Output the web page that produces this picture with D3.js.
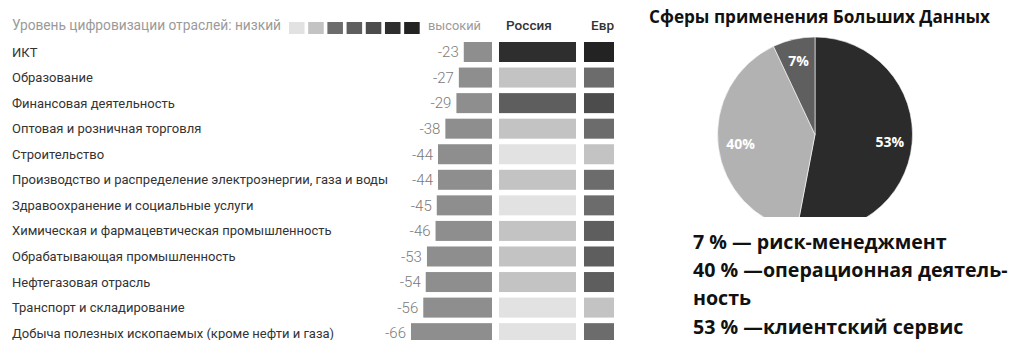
<!DOCTYPE html>
<html><head><meta charset="utf-8">
<script src="https://cdn.jsdelivr.net/npm/d3@7"></script>
<style>
html,body{margin:0;padding:0;background:#fff;}
svg{display:block;}
</style></head>
<body>
<svg id="c" width="1017" height="340"></svg>
<script>
// ---------- data ----------
const sectors = [
  "ИКТ",
  "Образование",
  "Финансовая деятельность",
  "Оптовая и розничная торговля",
  "Строительство",
  "Производство и распределение электроэнергии, газа и воды",
  "Здравоохранение и социальные услуги",
  "Химическая и фармацевтическая промышленность",
  "Обрабатывающая промышленность",
  "Нефтегазовая отрасль",
  "Транспорт и складирование",
  "Добыча полезных ископаемых (кроме нефти и газа)"
];
const changes = [-23, -27, -29, -38, -44, -44, -45, -46, -53, -54, -56, -66];
const regions = ["Россия", "Европа"];
const russiaLevel = [6, 2, 4, 2, 1, 2, 1, 2, 2, 2, 1, 1];
const europeLevel = [7, 3, 5, 3, 2, 3, 3, 4, 4, 4, 2, 3];
const levels = [1, 2, 3, 4, 5, 6, 7];
const levelColors = ["#e2e2e2", "#c3c3c3", "#6c6c6c", "#5e5e5e", "#4c4c4c", "#2e2e2e", "#232323"];
const legendTitle = "Уровень цифровизации отраслей: низкий";
const legendHigh = "высокий";

const pieTitle = "Сферы применения Больших Данных";
const pieCategories = ["клиентский сервис", "операционная деятельность", "риск-менеджмент"];
const pieValues = [53, 40, 7];
const pieColors = ["#2b2b2b", "#b2b2b2", "#5f5f5f"];
const pieLegendLines = ["7 % — риск-менеджмент", "40 % —операционная деятель-", "ность", "53 % —клиентский сервис"];

// ---------- helpers ----------
function fitSize(sel, target) {
  // scale the font size of a single text so its width matches target
  const n = sel.node();
  const fs = parseFloat(sel.attr("font-size"));
  const w = n.getComputedTextLength();
  if (w > 0) sel.attr("font-size", (fs * target / w).toFixed(2));
  return sel;
}

// ---------- drawing ----------
const svg = d3.select("#c");
const defs = svg.append("defs");
defs.append("clipPath").attr("id", "leftClip").append("rect")
  .attr("x", 0).attr("y", 0).attr("width", 614).attr("height", 340);
defs.append("clipPath").attr("id", "pieClip").append("rect")
  .attr("x", 640).attr("y", 0).attr("width", 377).attr("height", 217);

const left = svg.append("g").attr("clip-path", "url(#leftClip)");
const FONT = "Roboto, 'Liberation Sans', sans-serif";

const y = d3.scaleBand().domain(sectors)
  .range([42, 42 + 11 * 25.56 + 20]).paddingInner(0.2175).paddingOuter(0);
const x = d3.scaleLinear().domain([0, -66]).range([492, 411]);
const col = d3.scaleBand().domain(regions).range([499, 661]).paddingInner(0.094);
const lev = d3.scaleBand().domain(levels).range([289, 289 + 6 * 19.2 + 15.5]).paddingInner(0.19);
const levColor = d3.scaleOrdinal().domain(levels).range(levelColors);

// header
const ht = left.append("text").attr("x", 12).attr("y", 29.5)
  .attr("font-family", FONT).attr("font-size", 13)
  .attr("fill", "#9a9a9a").text(legendTitle);
fitSize(ht, 269);
left.selectAll("rect.lev").data(levels).join("rect").attr("class", "lev")
  .attr("x", d => lev(d)).attr("y", 22).attr("width", lev.bandwidth()).attr("height", 12)
  .attr("fill", d => levColor(d));
const hh = left.append("text").attr("x", 428).attr("y", 29.5)
  .attr("font-family", FONT).attr("font-size", 13)
  .attr("fill", "#9a9a9a").text(legendHigh);
fitSize(hh, 53);
left.selectAll("text.reg").data(regions).join("text").attr("class", "reg")
  .attr("x", d => col(d) + 7).attr("y", 29.5)
  .attr("font-family", FONT).attr("font-size", 13.6).attr("font-weight", 500)
  .attr("fill", "#333").text(d => d);

// row labels
const labs = left.selectAll("text.lab").data(sectors).join("text").attr("class", "lab")
  .attr("x", 12).attr("y", d => y(d) + y.bandwidth() / 2 + 4.5)
  .attr("font-family", FONT).attr("font-size", 13)
  .attr("fill", "#333").text(d => d);
// size labels so the longest matches the reference width
const longest = labs.filter((d, i) => i === 5);
const lw = longest.node().getComputedTextLength();
labs.attr("font-size", (13 * 376 / lw).toFixed(2));

// bars
left.selectAll("rect.bar").data(sectors).join("rect").attr("class", "bar")
  .attr("x", (d, i) => x(changes[i])).attr("y", d => y(d))
  .attr("width", (d, i) => x(0) - x(changes[i])).attr("height", y.bandwidth())
  .attr("fill", "#8e8e8e");
left.selectAll("text.val").data(sectors).join("text").attr("class", "val")
  .attr("x", (d, i) => x(changes[i]) - 5).attr("y", d => y(d) + y.bandwidth() / 2 + 5.3)
  .attr("text-anchor", "end")
  .attr("font-family", FONT).attr("font-weight", 300)
  .attr("font-size", 15).attr("fill", "#7a7a7a")
  .text((d, i) => changes[i]);

// level cells
const cellData = [];
sectors.forEach((s, i) => {
  cellData.push({s, r: regions[0], l: russiaLevel[i]});
  cellData.push({s, r: regions[1], l: europeLevel[i]});
});
left.selectAll("rect.cell").data(cellData).join("rect").attr("class", "cell")
  .attr("x", d => col(d.r)).attr("y", d => y(d.s))
  .attr("width", col.bandwidth()).attr("height", y.bandwidth())
  .attr("fill", d => levColor(d.l));

// ---------- pie ----------
const PFONT = "'Open Sans', 'Noto Sans', sans-serif";
const cx = 815, cy = 134.5, R = 97.5;
const pt = svg.append("text").attr("x", 819.5).attr("y", 23).attr("text-anchor", "middle")
  .attr("font-family", PFONT).attr("font-weight", 700)
  .attr("font-size", 16).attr("fill", "#111").text(pieTitle);
fitSize(pt, 341);

const pie = d3.pie().sort(null).value(d => d)(pieValues);
const arc = d3.arc().innerRadius(0).outerRadius(R);
const labelArc = d3.arc().innerRadius(R * 0.77).outerRadius(R * 0.77);
const pg = svg.append("g").attr("clip-path", "url(#pieClip)")
  .append("g").attr("transform", `translate(${cx},${cy})`);
pg.selectAll("path").data(pie).join("path")
  .attr("d", arc).attr("fill", (d, i) => pieColors[i])
  .attr("stroke", "#fff").attr("stroke-width", 0.6);
pg.selectAll("text").data(pie).join("text")
  .attr("transform", d => `translate(${labelArc.centroid(d)})`)
  .attr("text-anchor", "middle").attr("dy", "0.36em")
  .attr("font-family", PFONT).attr("font-weight", 700)
  .attr("font-size", 14).attr("fill", "#fff")
  .text(d => d.data + "%");

// legend text lines
const pl = svg.selectAll("text.pl").data(pieLegendLines).join("text").attr("class", "pl")
  .attr("x", 693).attr("y", (d, i) => 249 + i * 28.2)
  .attr("font-family", PFONT).attr("font-weight", 700)
  .attr("font-size", 17).attr("fill", "#111").text(d => d);
const l2w = pl.filter((d, i) => i === 1).node().getComputedTextLength();
pl.attr("font-size", (17 * 315 / l2w).toFixed(2));
</script>
</body></html>
